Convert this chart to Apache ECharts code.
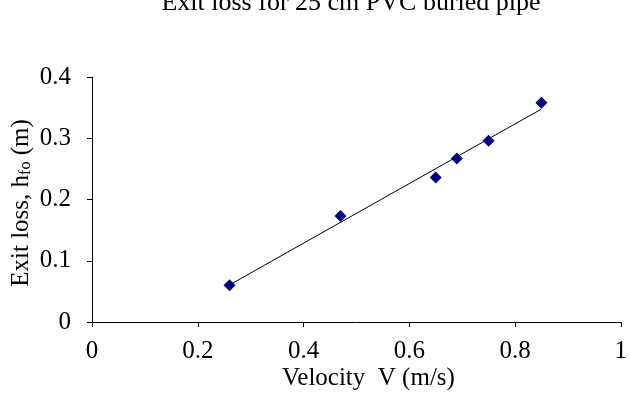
<!DOCTYPE html>
<html>
<head>
<meta charset="utf-8">
<script src="https://cdn.jsdelivr.net/npm/echarts@6/dist/echarts.min.js"></script>
<style>
  html, body { margin: 0; padding: 0; background: #fff; }
  #chart { width: 630px; height: 400px; }
</style>
</head>
<body>
<div id="chart"></div>
<script>
// Measured exit loss against flow velocity
const velocity = [0.26, 0.47, 0.65, 0.69, 0.75, 0.85];
const exitLoss = [0.060, 0.173, 0.236, 0.267, 0.296, 0.358];
const xTicks = [0, 0.2, 0.4, 0.6, 0.8, 1];
const yTicks = [0, 0.1, 0.2, 0.3, 0.4];

// Least-squares linear trendline over the measured range
function linearFit(xs, ys) {
  const n = xs.length;
  const mx = xs.reduce((a, b) => a + b, 0) / n;
  const my = ys.reduce((a, b) => a + b, 0) / n;
  let sxy = 0, sxx = 0;
  for (let i = 0; i < n; i++) {
    sxy += (xs[i] - mx) * (ys[i] - my);
    sxx += (xs[i] - mx) * (xs[i] - mx);
  }
  const slope = sxy / sxx;
  return { slope, intercept: my - slope * mx };
}
const fit = linearFit(velocity, exitLoss);
const xMin = Math.min(...velocity), xMax = Math.max(...velocity);
const trend = [
  [xMin, fit.intercept + fit.slope * xMin],
  [xMax, fit.intercept + fit.slope * xMax]
];

const serif = '"Liberation Serif", "Times New Roman", serif';
const tickLabel = list => v => String(list.find(t => Math.abs(t - v) < 1e-9) ?? v);
const chart = echarts.init(document.getElementById('chart'), null, { renderer: 'canvas' });

chart.setOption({
  animation: false,
  title: {
    text: 'Exit loss for 25 cm PVC buried pipe',
    left: 346, top: -15, textAlign: 'center',
    textStyle: { fontFamily: serif, fontSize: 26, fontWeight: 'normal', color: '#000' }
  },
  grid: { left: 92, right: 6, top: 77, bottom: 78, containLabel: false },
  xAxis: {
    type: 'value', min: 0, max: 1, interval: 0.2,
    axisLine: { show: true, lineStyle: { color: '#000', width: 1 } },
    axisTick: { show: true, inside: false, length: 5, lineStyle: { color: '#000' } },
    splitLine: { show: false },
    axisLabel: {
      margin: 17, fontFamily: serif, fontSize: 25, color: '#000',
      formatter: tickLabel(xTicks)
    }
  },
  yAxis: {
    type: 'value', min: 0, max: 0.4, interval: 0.1,
    axisLine: { show: true, lineStyle: { color: '#000', width: 1 } },
    axisTick: { show: true, inside: false, length: 5, lineStyle: { color: '#000' } },
    splitLine: { show: false },
    axisLabel: {
      margin: 21, fontFamily: serif, fontSize: 25, color: '#000',
      formatter: tickLabel(yTicks)
    }
  },
  graphic: [
    {
      type: 'text', left: 282, top: 366,
      style: {
        text: 'Velocity  V (m/s)', fontFamily: serif, fontSize: 25, fill: '#000'
      }
    },
    {
      type: 'text', x: 21, y: 203, rotation: Math.PI / 2,
      style: {
        text: '{n|Exit loss, h}{s|fo}{n| (m)}',
        rich: {
          n: { fontFamily: serif, fontSize: 25, color: '#000' },
          s: { fontFamily: serif, fontSize: 16, color: '#000', padding: [10, 0, 0, 0] }
        },
        align: 'center', verticalAlign: 'middle'
      }
    }
  ],
  series: [
    {
      type: 'line', data: trend, symbol: 'none', silent: true,
      lineStyle: { color: '#000', width: 1 }, z: 2
    },
    {
      type: 'scatter', data: velocity.map((v, i) => [v, exitLoss[i]]),
      symbol: 'diamond', symbolSize: [12, 12],
      itemStyle: { color: '#000080', opacity: 1 }, z: 3
    }
  ]
});
</script>
</body>
</html>
